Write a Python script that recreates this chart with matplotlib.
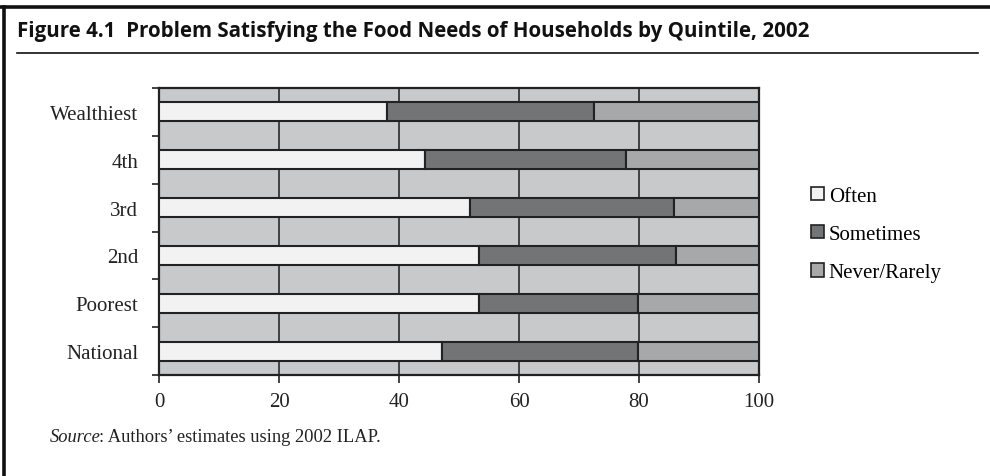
import matplotlib

matplotlib.use("Agg")
import matplotlib.pyplot as plt
import numpy as np
from matplotlib.lines import Line2D

# Quintiles, bottom to top as drawn
GROUPS = ["National", "Poorest", "2nd", "3rd", "4th", "Wealthiest"]
OFTEN = [47.2, 53.4, 53.4, 51.9, 44.4, 38.0]
SOMETIMES = [32.6, 26.4, 32.7, 33.9, 33.4, 34.5]
NEVER = [20.2, 20.2, 13.9, 14.2, 22.2, 27.5]
SERIES = ["Often", "Sometimes", "Never/Rarely"]
COLORS = ["#f2f2f2", "#737476", "#a7a8aa"]

SERIF = ["Liberation Serif", "DejaVu Serif"]
TITLE_FONT = ["Open Sans", "DejaVu Sans"]

fig = plt.figure(figsize=(9.9, 4.77), dpi=100)

# outer frame (top + left) and title rule
fig.add_artist(Line2D([0, 1], [1 - 8 / 477, 1 - 8 / 477], color="#111111", lw=2.6))
fig.add_artist(Line2D([4 / 990, 4 / 990], [0, 1 - 8 / 477], color="#111111", lw=2.6))
fig.add_artist(Line2D([17 / 990, 978 / 990], [1 - 54 / 477, 1 - 54 / 477],
                      color="#111111", lw=1.2))
fig.text(17 / 990, 1 - 31 / 477,
         "Figure 4.1  Problem Satisfying the Food Needs of Households by Quintile, 2002",
         family=TITLE_FONT, fontweight="bold", fontsize=14.8, va="center", ha="left",
         color="#111111")

ax = fig.add_axes([159 / 990, 1 - 376 / 477, 600 / 990, 287 / 477])
ax.set_facecolor("#c8c9cb")

y = np.arange(len(GROUPS))
left = np.zeros(len(GROUPS))
handles = []
for name, vals, col in zip(SERIES, [OFTEN, SOMETIMES, NEVER], COLORS):
    b = ax.barh(y, vals, left=left, height=0.4, color=col, edgecolor="#222222",
                linewidth=1.5, zorder=3, label=name)
    left = left + np.array(vals)
    handles.append(b)

ax.set_xlim(0, 100)
ax.set_ylim(-0.5, len(GROUPS) - 0.5)
ax.set_xticks(range(0, 101, 20))
ax.grid(axis="x", color="#2a2a2a", lw=1.2, zorder=1)
ax.set_axisbelow(True)

ax.set_yticks(y)
ax.set_yticklabels(GROUPS, family=SERIF, fontsize=15, color="#222222")
ax.set_yticks(np.arange(-0.5, len(GROUPS)), minor=True)
ax.tick_params(axis="y", which="major", length=0, pad=15)
ax.tick_params(axis="y", which="minor", length=5, width=1.2, color="#222222")
ax.tick_params(axis="x", length=6, width=1.2, color="#222222", pad=6)
for lab in ax.get_xticklabels():
    lab.set_family(SERIF)
    lab.set_fontsize(15)
    lab.set_color("#222222")
for sp in ax.spines.values():
    sp.set_color("#222222")
    sp.set_linewidth(1.6)

leg = fig.legend(handles=handles, labels=SERIES, loc="upper left",
                 bbox_to_anchor=(811 / 990, 1 - 188 / 477), frameon=False,
                 prop={"family": SERIF, "size": 15}, handlelength=0.6,
                 handleheight=0.6, handletextpad=0.25, labelspacing=0.92,
                 borderpad=0, borderaxespad=0)
for h in leg.legend_handles:
    h.set_linewidth(1.2)

src = fig.text(50 / 990, 1 - 438 / 477, "Source", family=SERIF, style="italic",
               fontsize=13.3, va="center", ha="left", color="#222222")
ax.annotate(": Authors\u2019 estimates using 2002 ILAP.", xy=(1, 0), xycoords=src,
            xytext=(-1.5, 0), textcoords="offset points",
            va="bottom", ha="left", family=SERIF, fontsize=13.3, color="#222222",
            annotation_clip=False)

fig.savefig("out.png", dpi=100)
